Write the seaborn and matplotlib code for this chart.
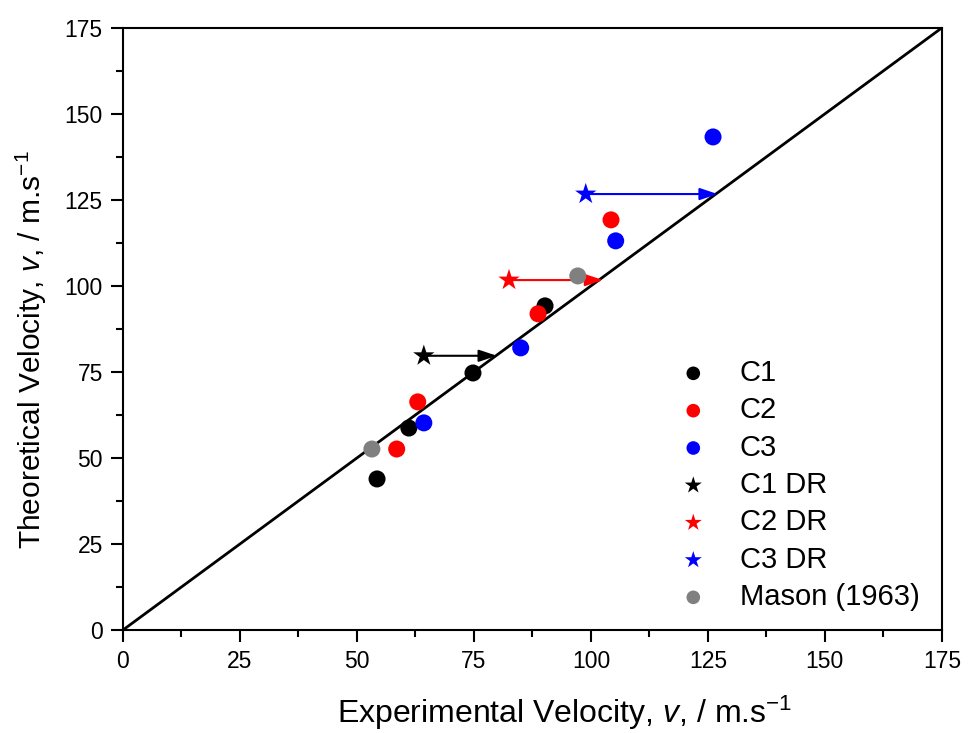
import matplotlib
matplotlib.use("Agg")
import matplotlib.pyplot as plt
from matplotlib.ticker import MultipleLocator
import seaborn as sns
import pandas as pd

# Data
c1_x = [54.3, 61.1, 74.8, 90.2]
c1_y = [43.9, 58.7, 74.7, 94.2]
c2_x = [58.5, 63.0, 88.7, 104.3]
c2_y = [52.6, 66.3, 91.9, 119.2]
c3_x = [64.3, 85.0, 105.3, 126.1]
c3_y = [60.2, 82.0, 113.1, 143.3]
dr_names = ["C1 DR", "C2 DR", "C3 DR"]
dr_x = [64.3, 82.5, 98.9]
dr_y = [79.7, 101.7, 126.7]
dr_arrow_end_x = [79.9, 102.6, 127.1]
mason_x = [53.2, 97.2]
mason_y = [52.6, 102.9]
ticks = [0, 25, 50, 75, 100, 125, 150, 175]

sns.set_theme(style="ticks")
plt.rcParams['font.family'] = ['Liberation Sans', 'DejaVu Sans']
plt.rcParams['mathtext.fontset'] = 'custom'
plt.rcParams['mathtext.rm'] = 'Liberation Sans'
plt.rcParams['mathtext.it'] = 'Liberation Sans:italic'
for k in ['text.color', 'axes.labelcolor', 'xtick.color', 'ytick.color', 'axes.edgecolor']:
    plt.rcParams[k] = 'black'

fig = plt.figure(figsize=(9.68, 7.33), dpi=100)
ax = fig.add_axes([0.127, 0.1405, 0.846, 0.8215])

ax.plot([0, 175], [0, 175], color='black', lw=2, zorder=1)

colors = {"C1": "#000000", "C2": "#ff0000", "C3": "#0000ff"}
dr_colors = ["#000000", "#ff0000", "#0000ff"]

for name, xs, ys in [("C1", c1_x, c1_y), ("C2", c2_x, c2_y), ("C3", c3_x, c3_y)]:
    df = pd.DataFrame({"x": xs, "y": ys})
    sns.scatterplot(data=df, x="x", y="y", ax=ax, color=colors[name], s=150,
                    edgecolor='none', marker='o', label=name, zorder=3)

for i, name in enumerate(dr_names):
    ax.annotate("", xy=(dr_arrow_end_x[i], dr_y[i]), xytext=(dr_x[i], dr_y[i]),
                arrowprops=dict(arrowstyle="-|>,head_length=0.9,head_width=0.3",
                                color=dr_colors[i], lw=1.5, shrinkA=0, shrinkB=0),
                zorder=2)
    df = pd.DataFrame({"x": [dr_x[i]], "y": [dr_y[i]]})
    sns.scatterplot(data=df, x="x", y="y", ax=ax, color=dr_colors[i], s=260,
                    edgecolor='none', marker='*', label=name, zorder=4)

dfm = pd.DataFrame({"x": mason_x, "y": mason_y})
sns.scatterplot(data=dfm, x="x", y="y", ax=ax, color="#808080", s=150,
                edgecolor='none', marker='o', label="Mason (1963)", zorder=3)

ax.set_xlim(0, 175)
ax.set_ylim(0, 175)
ax.set_xticks(ticks)
ax.set_yticks(ticks)
ax.xaxis.set_minor_locator(MultipleLocator(12.5))
ax.yaxis.set_minor_locator(MultipleLocator(12.5))
ax.tick_params(which='major', direction='out', length=8.5, width=1.5, labelsize=16.5,
               colors='black', top=False, right=False, pad=6)
ax.tick_params(which='minor', direction='out', length=5, width=1.5,
               top=False, right=False)
for sp in ax.spines.values():
    sp.set_linewidth(1.5)
    sp.set_color('black')

ax.set_xlabel(r"Experimental Velocity, $\it{v}$, / m.s$^{-1}$", fontsize=23, labelpad=15, x=0.54)
ax.set_ylabel(r"Theoretical Velocity, $\it{v}$, / m.s$^{-1}$", fontsize=21.5, labelpad=11, y=0.465)

leg = ax.legend(loc='lower right', frameon=False, fontsize=21, handletextpad=0.6,
                labelspacing=0.32, bbox_to_anchor=(1.005, -0.012), markerscale=0.8)

fig.savefig("out.png", dpi=100)
